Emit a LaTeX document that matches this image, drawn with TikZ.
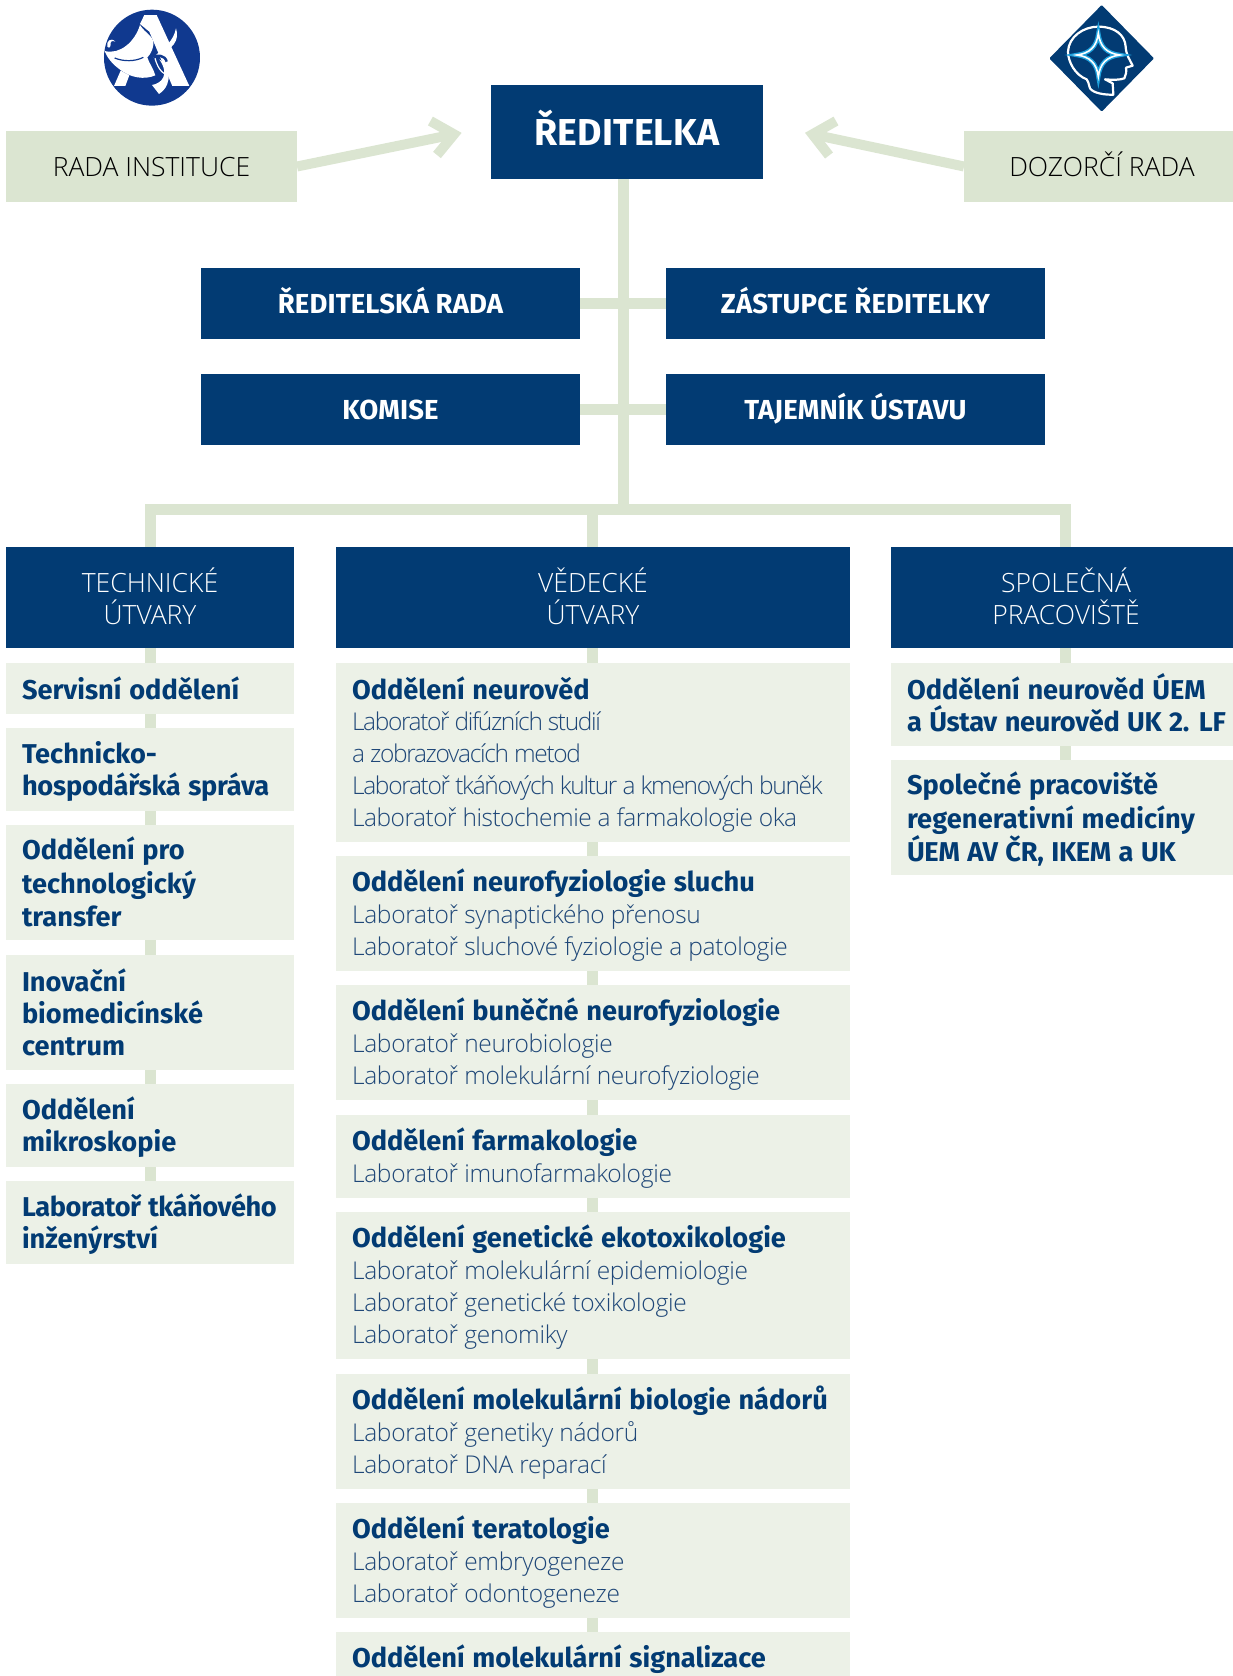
\documentclass[tikz,border=0pt]{standalone}
\usepackage{fontspec}
\usetikzlibrary{backgrounds,calc}
\setmainfont{Fira Sans}
\newfontfamily\labfam{Open Sans Light}
\newfontfamily\capfam{Open Sans Light}
\newfontfamily\boldfam{Fira Sans}[UprightFont={* Bold},BoldFont={* Bold},WordSpace=1.2]
\newfontfamily\boldcapfam{Fira Sans}[UprightFont={* Bold},BoldFont={* Bold},LetterSpace=0.5]
\definecolor{navy}{HTML}{023B73}
\definecolor{sage}{HTML}{DBE5D1}
\definecolor{pale}{HTML}{ECF1E7}
\definecolor{labc}{HTML}{1F4778}
\definecolor{logoblue}{HTML}{10398F}
\definecolor{starblue}{HTML}{1EA0DC}
\newcommand{\st}{\rule[-6pt]{0pt}{31pt}}
\newcommand{\Bd}[2][0]{\st\rlap{\lower1pt\hbox{\spaceskip=0pt\xspaceskip=0pt\boldfam\fontsize{27.2}{32}\selectfont\addfontfeatures{LetterSpace=#1}\color{navy}#2}}}
\newcommand{\Lab}[2][-1.2]{\st\rlap{\spaceskip=0pt\xspaceskip=0pt\labfam\fontsize{24.5}{32}\selectfont\addfontfeatures{LetterSpace=#1}\color{labc}#2}}
\newcommand{\Fl}[1]{\rule{0pt}{23pt}\smash{#1}}
\tikzset{
  x=1pt,y=-1pt,
  flat/.style={rectangle,inner sep=0pt,outer sep=0pt,anchor=north west,line width=0pt,draw=none},
  head/.style={flat,fill=navy,text=white,align=center},
  toptext/.style={font=\boldcapfam\fontsize{37.5}{40}\selectfont,text height=27.4pt,text depth=0pt},
  midtext/.style={font=\boldcapfam\fontsize{27.5}{32}\selectfont,text height=19pt,text depth=0pt},
  coltext/.style={font=\capfam\fontsize{26.5}{32}\selectfont},
  side/.style={flat,fill=sage,text=black,align=center,font=\capfam\fontsize{26.5}{32}\selectfont,text height=19pt,text depth=0pt},
  itembox/.style={flat,fill=pale,align=left,inner xsep=16pt},
  link/.style={draw=sage,line width=11pt},
  arrowline/.style={draw=sage,line width=10pt,line join=miter,miter limit=10},
}
\newcommand{\itm}[6]{\node[itembox,minimum width=#3pt,minimum height=#5pt-#4pt,text width=#3pt-32pt] (#6) at (#2,#4) {#1};}
\begin{document}
\begin{tikzpicture}
\useasboundingbox (0,0) rectangle (1233,1676);
% top row
\node[side,minimum width=291pt,minimum height=71pt] (rada) at (6,131) {RADA INSTITUCE};
\node[side,minimum width=269pt,minimum height=71pt] (dozor) at (964,131) {\hspace*{7pt}DOZORČÍ RADA};
\node[head,toptext,minimum width=272pt,minimum height=94pt] (red) at (491,85) {ŘEDITELKA};
\node[head,midtext,minimum width=379pt,minimum height=71pt] (rr) at (201,268) {ŘEDITELSKÁ RADA};
\node[head,midtext,minimum width=379pt,minimum height=71pt] (kom) at (201,374) {KOMISE};
\node[head,midtext,minimum width=379pt,minimum height=71pt] (zas) at (666,268) {ZÁSTUPCE ŘEDITELKY};
\node[head,midtext,minimum width=379pt,minimum height=71pt] (taj) at (666,374) {TAJEMNÍK ÚSTAVU};
% column heads
\node[head,coltext,minimum width=288pt,minimum height=101pt,text width=288pt] (tech) at (6,547) {\Fl{TECHNICKÉ}\\ÚTVARY};
\node[head,coltext,minimum width=514pt,minimum height=101pt,text width=514pt] (ved) at (336,547) {\Fl{VĚDECKÉ}\\ÚTVARY};
\node[head,coltext,minimum width=342pt,minimum height=101pt,text width=342pt] (spol) at (891,547) {\hspace*{8pt}\Fl{SPOLEČNÁ}\\\hspace*{8pt}PRACOVIŠTĚ};
% left column
\itm{\Bd{Servisní oddělení}}{6}{288}{663}{714}{a1}
\itm{\Bd{Technicko-}\\\Bd[-0.9]{hospodářská správa}}{6}{288}{728}{811}{a2}
\itm{\Bd{Oddělení pro}\\\Bd{technologický}\\\Bd{transfer}}{6}{288}{825}{940}{a3}
\itm{\Bd{Inovační}\\\Bd{biomedicínské}\\\Bd{centrum}}{6}{288}{955}{1070}{a4}
\itm{\Bd{Oddělení}\\\Bd{mikroskopie}}{6}{288}{1084}{1167}{a5}
\itm{\Bd[-1.5]{Laboratoř tkáňového}\\\Bd{inženýrství}}{6}{288}{1181}{1264}{a6}
% middle column
\itm{\Bd{Oddělení neurověd}\\\Lab[-5.6]{Laboratoř difúzních studií}\\\Lab[-5.4]{a zobrazovacích metod}\\\Lab[-5.3]{Laboratoř tkáňových kultur a kmenových buněk}\\\Lab[-2]{Laboratoř histochemie a farmakologie oka}}{336}{514}{663}{842}{b1}
\itm{\Bd{Oddělení neurofyziologie sluchu}\\\Lab{Laboratoř synaptického přenosu}\\\Lab{Laboratoř sluchové fyziologie a patologie}}{336}{514}{856}{971}{b2}
\itm{\Bd{Oddělení buněčné neurofyziologie}\\\Lab{Laboratoř neurobiologie}\\\Lab{Laboratoř molekulární neurofyziologie}}{336}{514}{985}{1100}{b3}
\itm{\Bd{Oddělení farmakologie}\\\Lab{Laboratoř imunofarmakologie}}{336}{514}{1115}{1198}{b4}
\itm{\Bd{Oddělení genetické ekotoxikologie}\\\Lab{Laboratoř molekulární epidemiologie}\\\Lab{Laboratoř genetické toxikologie}\\\Lab{Laboratoř genomiky}}{336}{514}{1212}{1359}{b5}
\itm{\Bd{Oddělení molekulární biologie nádorů}\\\Lab{Laboratoř genetiky nádorů}\\\Lab{Laboratoř DNA reparací}}{336}{514}{1374}{1489}{b6}
\itm{\Bd{Oddělení teratologie}\\\Lab{Laboratoř embryogeneze}\\\Lab{Laboratoř odontogeneze}}{336}{514}{1503}{1618}{b7}
\itm{\Bd{Oddělení molekulární signalizace}}{336}{514}{1632}{1683}{b8}
% right column
\itm{\Bd{Oddělení neurověd ÚEM}\\\Bd[-1.1]{a Ústav neurověd UK 2. LF}}{891}{342}{663}{746}{c1}
\itm{\Bd{Společné pracoviště}\\\Bd[0.4]{regenerativní medicíny}\\\Bd[-1]{ÚEM AV ČR, IKEM a UK}}{891}{342}{760}{875}{c2}
% helper coordinates
\coordinate (trunk) at (623,509);
\coordinate (xa) at (150.5,509);
\coordinate (xb) at (592.7,509);
\coordinate (xc) at (1065.5,509);
\coordinate (ltv) at (454,134.3);
\coordinate (lta) at (430.4,121);
\coordinate (ltb) at (437,155);
\coordinate (rtv) at (812.5,134.3);
\coordinate (rta) at (836,121);
\coordinate (rtb) at (829,155.5);
\begin{scope}[on background layer]
\draw[link] (trunk |- red.south) -- (trunk);
\draw[link] (rr.east) -- (zas.west);
\draw[link] (kom.east) -- (taj.west);
\draw[link,line join=miter] (xa |- tech.north) -- (xa) -- (xc) -- (xc |- spol.north);
\draw[link] (xb) -- (xb |- ved.north);
\foreach \p/\q in {tech/a1,a1/a2,a2/a3,a3/a4,a4/a5,a5/a6}
  \draw[link] (xa |- \p.south) -- (xa |- \q.north);
\foreach \p/\q in {ved/b1,b1/b2,b2/b3,b3/b4,b4/b5,b5/b6,b6/b7,b7/b8}
  \draw[link] (xb |- \p.south) -- (xb |- \q.north);
\foreach \p/\q in {spol/c1,c1/c2}
  \draw[link] (xc |- \p.south) -- (xc |- \q.north);
\end{scope}
\draw[arrowline] (rada.east) -- (ltv);
\draw[arrowline] (lta) -- (ltv) -- (ltb);
\draw[arrowline] (dozor.west) -- (rtv);
\draw[arrowline] (rta) -- (rtv) -- (rtb);
% academy logo
\begin{scope}[shift={(90,0)},x=0.3333pt,y=-0.3333pt]
\fill[logoblue] (186,173) circle [radius=144];
\fill[white] (163,45) -- (200,45) -- (298,258) -- (247,258) -- (178,95) -- (150,72) -- cycle;
\fill[white] (92,212) -- (72,258) -- (106,258) -- (118,226) -- cycle;
\fill[white] (44,153) .. controls (90,165) and (135,125) .. (150,75) .. controls (165,100) and (195,110) .. (190,135) .. controls (188,150) and (180,165) .. (172,172) .. controls (180,195) and (190,205) .. (196,226) .. controls (165,240) and (120,235) .. (85,205) .. controls (65,190) and (50,170) .. (44,153) -- cycle;
\fill[white] (52,140) .. controls (48,125) and (62,110) .. (76,125) .. controls (66,120) and (60,125) .. (62,135) .. controls (60,145) and (54,145) .. (52,140) -- cycle;
\draw[logoblue,line width=1.2pt] (74,174) .. controls (100,185) and (135,185) .. (160,172);
\fill[white] (258,85) .. controls (270,120) and (250,150) .. (190,172) .. controls (225,140) and (250,125) .. (258,85) -- cycle;
\draw[logoblue,line width=2.5pt] (180,170) .. controls (205,165) and (225,165) .. (230,185);
\fill[white] (208,178) .. controls (235,190) and (255,250) .. (207,282) -- (186,255) .. controls (215,250) and (240,225) .. (208,178) -- cycle;
\draw[white,line width=1.2pt] (195,175) .. controls (205,210) and (220,225) .. (240,225);
\end{scope}
% institute logo
\begin{scope}[shift={(1030,0)},x=0.3333pt,y=-0.3333pt]
\fill[navy,rounded corners=1pt] (215,15) -- (372,175) -- (215,335) -- (58,175) -- cycle;
\draw[white,line width=2.2pt,line join=round] (250,284) .. controls (225,285) and (190,280) .. (180,265) .. controls (175,250) and (175,243) .. (170,238) .. controls (135,225) and (114,185) .. (114,155) .. controls (116,110) and (160,80) .. (205,80) .. controls (255,80) and (285,105) .. (287,140) .. controls (288,165) and (300,180) .. (308,197) -- (288,203) .. controls (290,215) and (288,225) .. (283,235) .. controls (270,240) and (250,240) .. (225,238) -- (248,250) -- cycle;
\foreach \w/\c in {4.4pt/starblue,1.6pt/white}
  \draw[\c,line width=\w,line join=miter] (205,100) .. controls (210,140) and (230,160) .. (270,165) .. controls (230,170) and (210,190) .. (205,230) .. controls (200,190) and (180,170) .. (140,165) .. controls (180,160) and (200,140) .. (205,100) -- cycle;
\end{scope}
\end{tikzpicture}
\end{document}
